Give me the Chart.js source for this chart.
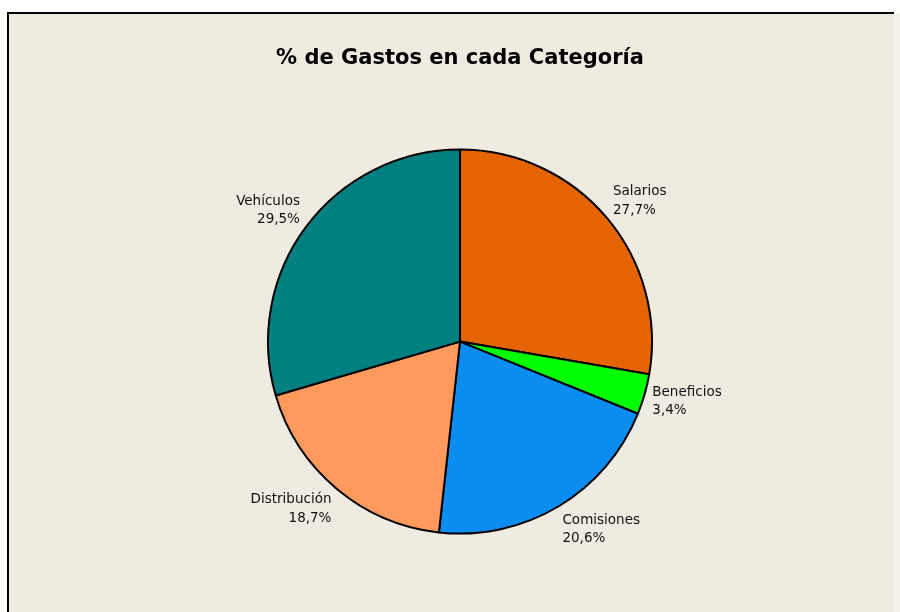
<!DOCTYPE html>
<html>
<head>
<meta charset="utf-8">
<script src="https://cdn.jsdelivr.net/npm/chart.js@4"></script>
<style>
  html, body { margin: 0; padding: 0; background: #fff; }
  #wrap { width: 900px; height: 612px; }
</style>
</head>
<body>
<div id="wrap"><canvas id="canvas" width="900" height="612"></canvas></div>
<script>
// data
var categories = ['Salarios', 'Beneficios', 'Comisiones', 'Distribución', 'Vehículos'];
var percents = [27.7, 3.4, 20.6, 18.7, 29.5];
var sliceColors = ['#E66400', '#00FF00', '#0A8CF0', '#FF9A5C', '#008080'];
var titleText = '% de Gastos en cada Categoría';

function pctLabel(v) {
    return v.toFixed(1).replace('.', ',') + '%';
}

// beige panel with the black frame on top / left
var framePlugin = {
    id: 'frame',
    beforeDraw: function (chart) {
        var ctx = chart.ctx;
        ctx.save();
        ctx.fillStyle = '#ffffff';
        ctx.fillRect(0, 0, chart.width, chart.height);
        ctx.fillStyle = '#EFEBE0';
        ctx.fillRect(8, 13, 886, chart.height - 13);
        ctx.fillStyle = '#F4F1EA';
        ctx.fillRect(894, 13, chart.width - 894, chart.height - 13);
        ctx.strokeStyle = '#000';
        ctx.lineWidth = 2;
        ctx.beginPath();
        ctx.moveTo(8, chart.height);
        ctx.lineTo(8, 13);
        ctx.lineTo(894, 13);
        ctx.stroke();
        ctx.restore();
    }
};

// category + percent written outside each slice
var outsideLabels = {
    id: 'outsideLabels',
    afterDatasetsDraw: function (chart) {
        var ctx = chart.ctx;
        var meta = chart.getDatasetMeta(0);
        var lineH = 18.5;
        ctx.save();
        ctx.font = '13.5px "DejaVu Sans", Tahoma, sans-serif';
        ctx.fillStyle = '#111';
        ctx.textBaseline = 'middle';
        meta.data.forEach(function (arc, i) {
            var a = (arc.startAngle + arc.endAngle) / 2;
            var r = arc.outerRadius + 8;
            var ax = arc.x + r * Math.cos(a);
            var ay = arc.y + r * Math.sin(a);
            var lines = [categories[i], pctLabel(percents[i])];
            var h = lines.length * lineH;
            var cy = ay + Math.sin(a) * h / 2;
            ctx.textAlign = Math.cos(a) >= 0 ? 'left' : 'right';
            lines.forEach(function (t, k) {
                ctx.fillText(t, ax, cy - h / 2 + lineH * (k + 0.5));
            });
        });
        ctx.restore();
    }
};

var config = {
    type: 'pie',
    data: {
        labels: categories,
        datasets: [{
            data: percents,
            backgroundColor: sliceColors,
            borderColor: '#000',
            borderWidth: 2,
            radius: 192
        }]
    },
    options: {
        responsive: false,
        animation: false,
        layout: {
            padding: { left: 268, right: 248, top: 46, bottom: 78 }
        },
        plugins: {
            legend: { display: false },
            tooltip: { enabled: false },
            title: {
                display: true,
                text: titleText,
                color: '#000',
                font: { family: '"DejaVu Sans", Tahoma, sans-serif', size: 21, weight: 'bold' },
                padding: { top: 0, bottom: 78 }
            }
        }
    },
    plugins: [framePlugin, outsideLabels]
};

window.onload = function () {
    var ctx = document.getElementById('canvas').getContext('2d');
    window.myPie = new Chart(ctx, config);
};
</script>
</body>
</html>
